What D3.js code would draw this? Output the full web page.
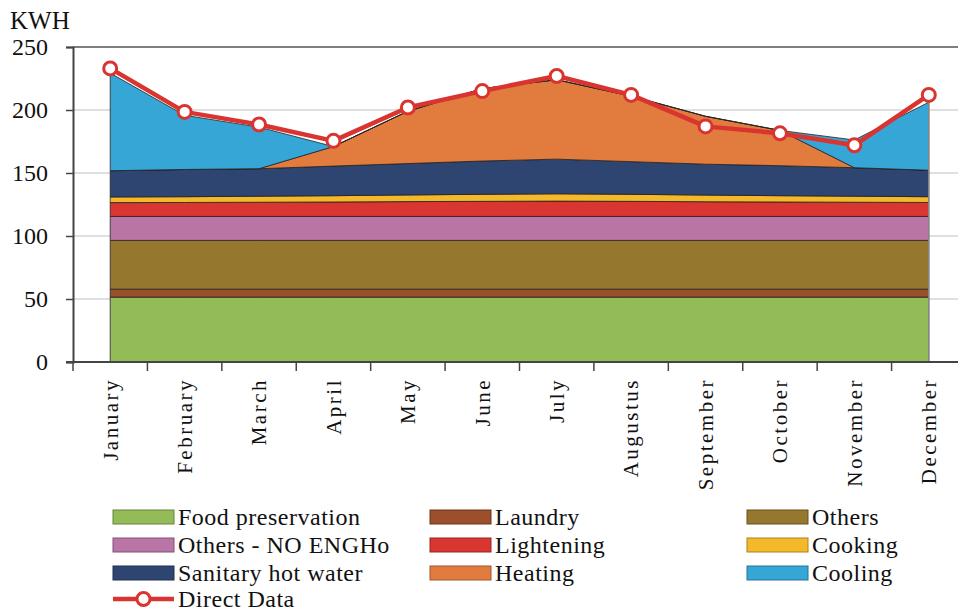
<!DOCTYPE html>
<html>
<head>
<meta charset="utf-8">
<script src="https://cdn.jsdelivr.net/npm/d3@7"></script>
<style>
  body { margin: 0; background: #fff; }
  svg { display: block; }
  svg text { font-family: "Liberation Serif", "DejaVu Serif", serif; fill: #111; }
</style>
</head>
<body>
<div id="chart"></div>
<script>
// Canvas and plot area
const w = 958;
const h = 612;
const plotLeft = 73;
const plotTop = 47;
const plotBottom = 362;
const rightEdge = 966;
const serif = "Liberation Serif, serif";

// Data (KWH per month)
const months = ["January", "February", "March", "April", "May", "June", "July",
  "Augustus", "September", "October", "November", "December"];
const foodPreservation = [51.5, 51.5, 51.5, 51.5, 51.5, 51.5, 51.5, 51.5, 51.5, 51.5, 51.5, 51.5];
const laundry = [6.3, 6.3, 6.3, 6.3, 6.3, 6.3, 6.3, 6.3, 6.3, 6.3, 6.3, 6.3];
const others = [38.7, 38.7, 38.7, 38.7, 38.7, 38.7, 38.7, 38.7, 38.7, 38.7, 38.7, 38.7];
const othersNoEngho = [19, 19, 19, 19, 19, 19, 19, 19, 19, 19, 19, 19];
const lightening = [11, 11.1, 11.3, 11.5, 11.8, 12, 12.2, 12, 11.7, 11.5, 11.3, 11.1];
const cooking = [4.5, 4.6, 4.8, 5, 5.3, 5.6, 5.8, 5.6, 5.3, 5, 4.8, 4.6];
const sanitaryHotWater = [20.8, 21.6, 21.8, 23.5, 24.9, 26.4, 27.5, 25.9, 24.5, 23.8, 22.6, 21];
const heating = [0, 0, 0, 15.5, 41.5, 57.5, 63, 52, 38, 28, 0, 0];
const cooling = [77.5, 43, 33, 0, 0, 0, 0, 0, 0, 0, 22, 54];
const directData = [233, 198.5, 188.5, 175.5, 202, 215, 227, 212, 187, 181.5, 172, 212];
const yTicks = [0, 50, 100, 150, 200, 250];

// Series in stacking order (bottom to top)
const series = [
  { key: "food", name: "Food preservation", values: foodPreservation, color: "#93bb57" },
  { key: "laundry", name: "Laundry", values: laundry, color: "#9b4f2b" },
  { key: "others", name: "Others", values: others, color: "#96772e" },
  { key: "noengho", name: "Others - NO ENGHo", values: othersNoEngho, color: "#b975a5" },
  { key: "light", name: "Lightening", values: lightening, color: "#d93632" },
  { key: "cooking", name: "Cooking", values: cooking, color: "#f4b82b" },
  { key: "shw", name: "Sanitary hot water", values: sanitaryHotWater, color: "#2e4571" },
  { key: "heating", name: "Heating", values: heating, color: "#e27c3e" },
  { key: "cooling", name: "Cooling", values: cooling, color: "#35a6d6" }
];
const lineColor = "#d9342f";

// Build table for d3.stack
const table = months.map((m, i) => {
  const row = { month: m };
  series.forEach(s => row[s.key] = s.values[i]);
  return row;
});

const svg = d3.select("#chart").append("svg")
  .attr("width", w)
  .attr("height", h);

const xScale = d3.scaleBand()
  .domain(months)
  .range([plotLeft, rightEdge]);

const xMid = m => xScale(m) + xScale.bandwidth() / 2;

const yScale = d3.scaleLinear()
  .domain([0, 250])
  .range([plotBottom, plotTop]);

// Gridlines
svg.append("g")
  .selectAll("line")
  .data(yTicks.filter(t => t > 0 && t < 250))
  .enter()
  .append("line")
  .attr("x1", plotLeft)
  .attr("x2", w)
  .attr("y1", d => yScale(d))
  .attr("y2", d => yScale(d))
  .attr("stroke", "#d4d4d4")
  .attr("stroke-width", 1.5);

// Top border line
svg.append("line")
  .attr("x1", plotLeft)
  .attr("x2", w)
  .attr("y1", yScale(250))
  .attr("y2", yScale(250))
  .attr("stroke", "#555")
  .attr("stroke-width", 1.5);

// Stacked areas
const stack = d3.stack().keys(series.map(s => s.key));
const layers = stack(table);

const area = d3.area()
  .x(d => xMid(d.data.month))
  .y0(d => yScale(d[0]))
  .y1(d => yScale(d[1]));

svg.append("g")
  .selectAll("path")
  .data(layers)
  .enter()
  .append("path")
  .attr("d", area)
  .attr("fill", (d, i) => series[i].color)
  .attr("stroke", "#222")
  .attr("stroke-width", 0.8)
  .attr("stroke-linejoin", "round");

// Right edge of the area block
svg.append("line")
  .attr("x1", xMid("December"))
  .attr("x2", xMid("December"))
  .attr("y1", yScale(0))
  .attr("y2", yScale(d3.sum(series, s => s.values[11])))
  .attr("stroke", "#888")
  .attr("stroke-width", 1.5);

// Direct data line
const line = d3.line()
  .x((d, i) => xMid(months[i]))
  .y(d => yScale(d));

svg.append("path")
  .datum(directData)
  .attr("d", line)
  .attr("fill", "none")
  .attr("stroke", lineColor)
  .attr("stroke-width", 4.5)
  .attr("stroke-linejoin", "round");

svg.append("g")
  .selectAll("circle")
  .data(directData)
  .enter()
  .append("circle")
  .attr("cx", (d, i) => xMid(months[i]))
  .attr("cy", d => yScale(d))
  .attr("r", 6.5)
  .attr("fill", "#fff")
  .attr("stroke", lineColor)
  .attr("stroke-width", 3);

// Y axis
const yAxis = d3.axisLeft(yScale)
  .tickValues(yTicks)
  .tickSize(7)
  .tickPadding(18);

const yG = svg.append("g")
  .attr("transform", `translate(${plotLeft},0)`)
  .call(yAxis)
  .attr("font-family", serif);
yG.select(".domain").attr("stroke", "#444").attr("stroke-width", 2);
yG.selectAll(".tick line").attr("stroke", "#444").attr("stroke-width", 1.5);
yG.selectAll("text")
  .attr("font-family", serif)
  .attr("font-size", 24)
  .attr("fill", "#111");

// X axis: line, boundary ticks and rotated labels
svg.append("line")
  .attr("x1", plotLeft - 7)
  .attr("x2", w)
  .attr("y1", plotBottom)
  .attr("y2", plotBottom)
  .attr("stroke", "#444")
  .attr("stroke-width", 2);

svg.append("g")
  .selectAll("line")
  .data(months)
  .enter()
  .append("line")
  .attr("x1", d => xScale(d))
  .attr("x2", d => xScale(d))
  .attr("y1", plotBottom)
  .attr("y2", plotBottom + 9)
  .attr("stroke", "#444")
  .attr("stroke-width", 1.5);

svg.append("g")
  .selectAll("text")
  .data(months)
  .enter()
  .append("text")
  .attr("transform", d => `translate(${xMid(d)},${plotBottom + 16})rotate(-90)`)
  .attr("dy", "0.35em")
  .attr("text-anchor", "end")
  .attr("font-family", serif)
  .attr("font-size", 21)
  .attr("letter-spacing", 2.5)
  .attr("fill", "#111")
  .text(d => d);

// Unit label
svg.append("text")
  .attr("x", 10)
  .attr("y", 29)
  .attr("font-family", serif)
  .attr("font-size", 25)
  .attr("fill", "#111")
  .text("KWH");

// Legend
const legendCols = [113, 430, 747];
const legendRows = [517, 545, 573];
const legend = svg.append("g");

series.forEach((s, i) => {
  const gx = legendCols[i % 3];
  const gy = legendRows[Math.floor(i / 3)];
  legend.append("rect")
    .attr("x", gx)
    .attr("y", gy - 7)
    .attr("width", 61)
    .attr("height", 14)
    .attr("fill", s.color)
    .attr("stroke", d3.color(s.color).darker(1))
    .attr("stroke-width", 1);
  legend.append("text")
    .attr("x", gx + 65)
    .attr("y", gy)
    .attr("dy", "0.35em")
    .attr("font-family", serif)
    .attr("font-size", 24)
    .attr("letter-spacing", 0.5)
    .attr("fill", "#111")
    .text(s.name);
});

// Direct data legend entry
legend.append("line")
  .attr("x1", 113)
  .attr("x2", 174)
  .attr("y1", 599)
  .attr("y2", 599)
  .attr("stroke", lineColor)
  .attr("stroke-width", 4.5);
legend.append("circle")
  .attr("cx", 143.5)
  .attr("cy", 599)
  .attr("r", 6.5)
  .attr("fill", "#fff")
  .attr("stroke", lineColor)
  .attr("stroke-width", 3);
legend.append("text")
  .attr("x", 178)
  .attr("y", 599)
  .attr("dy", "0.35em")
  .attr("font-family", serif)
  .attr("font-size", 24)
  .attr("letter-spacing", 0.5)
  .attr("fill", "#111")
  .text("Direct Data");
</script>
</body>
</html>
